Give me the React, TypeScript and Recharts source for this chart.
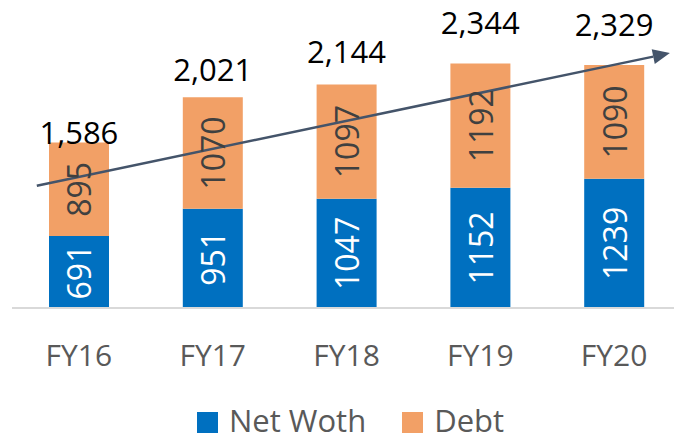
import { ComposedChart, Bar, Line, XAxis, YAxis, LabelList, Legend, ReferenceLine } from 'recharts';

const years = ['FY16', 'FY17', 'FY18', 'FY19', 'FY20'];
const netWorth = [691, 951, 1047, 1152, 1239];
const debt = [895, 1070, 1097, 1192, 1090];
const totals = [1586, 2021, 2144, 2344, 2329];
// trend arrow, in Y units, from FY16 to FY20
const trendFrom = 1257;
const trendTo = 2332;

const series = [
  { key: 'net', name: 'Net Woth', color: '#0070C0', text: '#FFFFFF' },
  { key: 'debt', name: 'Debt', color: '#F2A066', text: '#404040' },
];

const data = years.map((y, i) => ({ year: y, net: netWorth[i], debt: debt[i], total: totals[i] }));

const FONT = '"Open Sans", sans-serif';

function barLabel(color: string) {
  return (p: any) => {
    const cx = Number(p.x) + Number(p.width) / 2;
    const cy = Number(p.y) + Number(p.height) / 2;
    return (
      <text
        x={cx}
        y={cy}
        transform={`rotate(-90, ${cx}, ${cy})`}
        textAnchor="middle"
        dominantBaseline="central"
        fontSize={32}
        fill={color}
        fontFamily={FONT}
      >
        {p.value}
      </text>
    );
  };
}

const totalLabel = (p: any) => (
  <text x={p.x} y={p.y} textAnchor="middle" fontSize={31} fill="#000000" fontFamily={FONT}>
    {Number(p.value).toLocaleString('en-US')}
  </text>
);

const arrowShape = (p: any) => {
  const { x1, y1, x2, y2 } = p;
  const len = Math.hypot(x2 - x1, y2 - y1);
  const ux = (x2 - x1) / len;
  const uy = (y2 - y1) / len;
  const sx = x1 - ux * 43;
  const sy = y1 - uy * 43;
  const ex = x2 + ux * 57;
  const ey = y2 + uy * 57;
  const bx = ex - ux * 17;
  const by = ey - uy * 17;
  const nx = -uy * 7.5;
  const ny = ux * 7.5;
  return (
    <g>
      <line x1={sx} y1={sy} x2={bx} y2={by} stroke="#44546A" strokeWidth={2.5} />
      <polygon points={`${ex},${ey} ${bx + nx},${by + ny} ${bx - nx},${by - ny}`} fill="#44546A" />
    </g>
  );
};

const legendContent = () => (
  <div style={{ display: 'flex', alignItems: 'center', fontFamily: FONT, fontSize: 31, color: '#595959', whiteSpace: 'nowrap' }}>
    {series.map((s, i) => (
      <div key={s.key} style={{ display: 'flex', alignItems: 'center', marginRight: i === 0 ? 36 : 0 }}>
        <span style={{ width: 21, height: 21, background: s.color, display: 'inline-block', marginRight: 11, marginTop: 4 }} />
        <span style={{ lineHeight: '30px' }}>{s.name}</span>
      </div>
    ))}
  </div>
);

export default function App() {
  return (
    <div style={{ position: 'absolute', left: 0, top: 0, width: 674, height: 441, overflow: 'hidden', background: '#fff' }}>
      <ComposedChart
        width={690}
        height={441}
        data={data}
        margin={{ top: 16, right: 9, left: 12, bottom: 63 }}
        style={{ fontFamily: FONT }}
      >
        <XAxis
          dataKey="year"
          height={70}
          axisLine={{ stroke: '#D9D9D9', strokeWidth: 2 }}
          tickLine={false}
          tickMargin={31}
          tick={{ fill: '#595959', fontSize: 30, fontFamily: FONT }}
        />
        <YAxis yAxisId="left" hide domain={[0, 2800]} />
        <YAxis yAxisId="right" hide orientation="right" domain={[450, 2470]} />
        {series.map((s) => (
          <Bar key={s.key} yAxisId="left" dataKey={s.key} name={s.name} stackId="a" fill={s.color} barSize={60} isAnimationActive={false}>
            <LabelList dataKey={s.key} content={barLabel(s.text)} />
          </Bar>
        ))}
        <Line
          yAxisId="right"
          dataKey="total"
          stroke="none"
          dot={false}
          activeDot={false}
          legendType="none"
          isAnimationActive={false}
        >
          <LabelList dataKey="total" content={totalLabel} />
        </Line>
        <ReferenceLine
          yAxisId="left"
          segment={[{ x: years[0], y: trendFrom }, { x: years[years.length - 1], y: trendTo }]}
          shape={arrowShape}
        />
        <Legend
          verticalAlign="middle"
          align="center"
          content={legendContent}
          wrapperStyle={{ left: 197, top: 405, width: 'auto' }}
        />
      </ComposedChart>
    </div>
  );
}
